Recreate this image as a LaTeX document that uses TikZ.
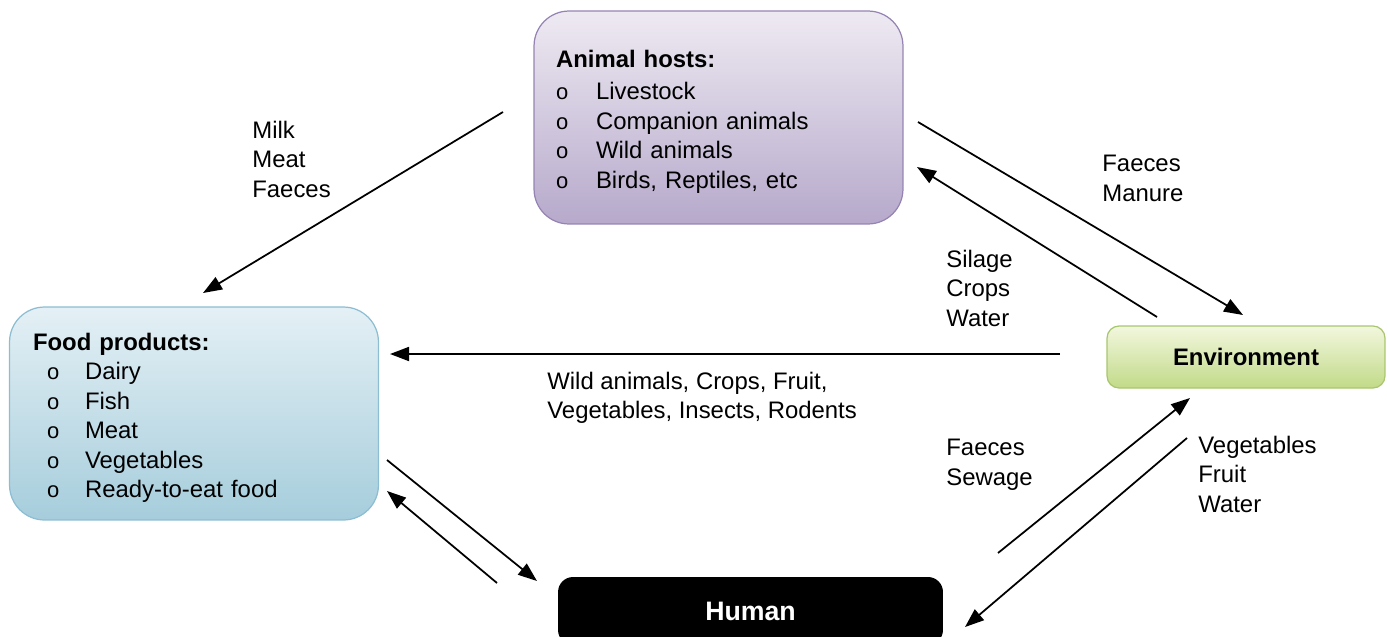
\documentclass[tikz,border=0pt]{standalone}
\usepackage{fontspec}
\setmainfont{Liberation Sans}
\usetikzlibrary{arrows.meta}

\definecolor{animaltop}{HTML}{EEEAF2}
\definecolor{animalbot}{HTML}{B6A9CB}
\definecolor{animalline}{HTML}{9584B3}
\definecolor{foodtop}{HTML}{E4F0F5}
\definecolor{foodbot}{HTML}{A6CDDC}
\definecolor{foodline}{HTML}{8CBDD2}
\definecolor{envtop}{HTML}{F2F7DE}
\definecolor{envbot}{HTML}{C2DA88}
\definecolor{envline}{HTML}{A9C66E}

\newcommand{\bul}{\makebox[0.8cm][l]{\fontsize{12.5}{12.5}\selectfont o}}
\newcommand{\fbul}{\hspace*{0.28cm}\makebox[0.76cm][l]{\fontsize{12.5}{12.5}\selectfont o}}

\tikzset{
  listbox/.style={draw, line width=0.7pt, rounded corners=0.7cm, align=left,
    inner xsep=0.44cm, inner ysep=0pt, text width=6.5cm,
    minimum width=7.38cm, minimum height=4.26cm},
  flow/.style={-{Triangle[length=0.38cm,width=0.28cm]}, line width=1pt},
  lbl/.style={align=left, inner sep=0pt, anchor=west}
}

\begin{document}
\begin{tikzpicture}[x=0.02cm, y=-0.02cm, font=\fontsize{13.6}{16.8}\selectfont]
\useasboundingbox (0,0) rectangle (1388,636);

% animal hosts
\node [listbox, draw=animalline, top color=animaltop, bottom color=animalbot] (animal) at (718.5,117.5)
{\rule{0pt}{0.52cm}\textbf{Animal hosts:}\\[1.5pt] \bul Livestock\\ \bul Companion animals\\ \bul Wild animals\\ \bul Birds, Reptiles, etc};

% food products
\node [listbox, draw=foodline, top color=foodtop, bottom color=foodbot, text width=6.44cm, inner xsep=0.46cm] (food) at (194,413.5)
{\rule{0pt}{0.52cm}\textbf{Food products:}\\ \fbul Dairy\\ \fbul Fish\\ \fbul Meat\\ \fbul Vegetables\\ \fbul Ready-to-eat food};

% environment and human
\node [draw=envline, line width=0.7pt, top color=envtop, bottom color=envbot, rounded corners=0.24cm,
  minimum width=5.56cm, minimum height=1.24cm, font=\fontsize{13.6}{16.8}\selectfont\bfseries] (env) at (1246,357) {Environment};
\node [fill=black, text=white, rounded corners=0.3cm, minimum width=7.7cm, minimum height=1.36cm,
  font=\fontsize{15.2}{18}\selectfont\bfseries] (human) at (750.5,611) {Human};

% arrow ends
\coordinate (milkS) at (503,112);
\coordinate (milkE) at (203,293);
\coordinate (manS) at (918,122);
\coordinate (manE) at (1243,315);
\coordinate (silS) at (1157,317);
\coordinate (silE) at (917,167);
\coordinate (wildS) at (1060,354);
\coordinate (wildE) at (390,354);
\coordinate (eatS) at (387,460);
\coordinate (eatE) at (537,581);
\coordinate (backS) at (497,583);
\coordinate (backE) at (387,491);
\coordinate (sewS) at (998,553);
\coordinate (sewE) at (1190,398);
\coordinate (vegS) at (1187,438);
\coordinate (vegE) at (965,627);

\draw [flow] (milkS) -- (milkE);
\draw [flow] (manS) -- (manE);
\draw [flow] (silS) -- (silE);
\draw [flow] (wildS) -- (wildE);
\draw [flow] (eatS) -- (eatE);
\draw [flow] (backS) -- (backE);
\draw [flow] (sewS) -- (sewE);
\draw [flow] (vegS) -- (vegE);

% labels
\node [lbl] (milk) at (252,159) {Milk\\Meat\\Faeces};
\node [lbl] (manure) at (1102,178.5) {Faeces\\Manure};
\node [lbl] (silage) at (946,288) {Silage\\Crops\\Water};
\node [lbl] (wild) at (547,398) {Wild animals, Crops, Fruit,\\Vegetables, Insects, Rodents};
\node [lbl] (sewage) at (946,465) {Faeces\\Sewage};
\node [lbl] (veg) at (1198,474) {Vegetables\\Fruit\\Water};

\end{tikzpicture}
\end{document}
